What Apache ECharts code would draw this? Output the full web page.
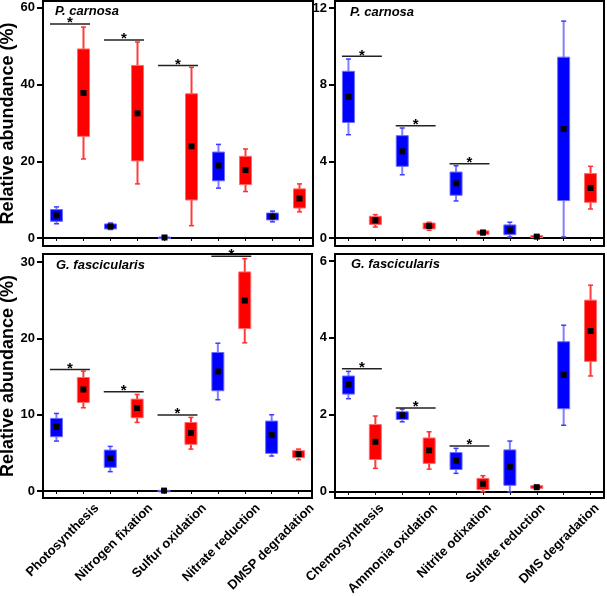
<!DOCTYPE html>
<html>
<head>
<meta charset="utf-8">
<script src="https://cdn.jsdelivr.net/npm/echarts@6/dist/echarts.min.js"></script>
<style>
  html, body { margin: 0; padding: 0; background: #fff; }
  #chart { width: 607px; height: 596px; }
</style>
</head>
<body>
<div id="chart"></div>
<script>
// categories
var leftCats = ["Photosynthesis", "Nitrogen fixation", "Sulfur oxidation", "Nitrate reduction", "DMSP degradation"];
var rightCats = ["Chemosynthesis", "Ammonia oxidation", "Nitrite odixation", "Sulfate reduction", "DMS degradation"];

// each box: [low whisker, Q1, Q3, high whisker, mean]
// P. carnosa
var pcLeftBlue = [[3.7, 4.35, 7.4, 8.1, 5.9], [2.2, 2.35, 3.65, 3.9, 3.0], [0, 0.05, 0.25, 0.4, 0.12], [13.0, 14.9, 22.4, 24.4, 18.9], [4.2, 4.7, 6.5, 7.0, 5.6]];
var pcLeftRed = [[20.6, 26.5, 49.3, 55.0, 37.8], [14.1, 20.1, 45.0, 51.1, 32.5], [3.2, 9.9, 37.6, 44.5, 23.9], [12.1, 13.9, 21.3, 23.2, 17.7], [6.8, 7.8, 12.8, 14.1, 10.3]];
var pcRightBlue = [[5.39, 6.03, 8.70, 9.34, 7.37], [3.30, 3.74, 5.34, 5.74, 4.52], [1.93, 2.23, 3.44, 3.77, 2.85], [0.05, 0.17, 0.68, 0.82, 0.43], [0.05, 1.95, 9.44, 11.32, 5.69]];
var pcRightRed = [[0.57, 0.70, 1.13, 1.22, 0.92], [0.40, 0.47, 0.78, 0.82, 0.63], [0.16, 0.19, 0.37, 0.40, 0.28], [0, 0.02, 0.12, 0.14, 0.07], [1.51, 1.86, 3.36, 3.74, 2.61]];
// G. fascicularis
var gfLeftBlue = [[6.54, 7.11, 9.51, 10.16, 8.42], [2.53, 3.10, 5.36, 5.84, 4.32], [0, 0.01, 0.08, 0.1, 0.05], [11.95, 13.13, 18.14, 19.36, 15.66], [4.58, 4.93, 9.16, 9.99, 7.33]];
var gfLeftRed = [[10.90, 11.60, 14.87, 15.70, 13.30], [8.98, 9.59, 12.04, 12.65, 10.86], [5.49, 6.11, 8.98, 9.64, 7.59], [19.41, 21.28, 28.70, 30.44, 24.95], [4.10, 4.36, 5.28, 5.49, 4.84]];
var gfRightBlue = [[2.42, 2.54, 3.01, 3.13, 2.79], [1.82, 1.88, 2.08, 2.15, 1.99], [0.48, 0.58, 1.02, 1.13, 0.81], [0, 0.17, 1.09, 1.32, 0.65], [1.73, 2.16, 3.90, 4.33, 3.04]];
var gfRightRed = [[0.61, 0.84, 1.75, 1.97, 1.30], [0.59, 0.74, 1.40, 1.56, 1.08], [0, 0.06, 0.35, 0.42, 0.21], [0.08, 0.09, 0.16, 0.17, 0.12], [3.01, 3.39, 4.98, 5.37, 4.18]];

// significance bars: [category index, height]
var pcLeftSig = [[0, 55.8], [1, 51.6], [2, 45.0]];
var pcRightSig = [[0, 9.48], [1, 5.86], [2, 3.88]];
var gfLeftSig = [[0, 15.92], [1, 13.0], [2, 9.94], [3, 30.75]];
var gfRightSig = [[0, 3.20], [1, 2.18], [2, 1.19]];

// y tick labels
var pcLeftTicks = [0, 20, 40, 60];
var pcRightTicks = [0, 4, 8, 12];
var gfLeftTicks = [0, 10, 20, 30];
var gfRightTicks = [0, 2, 4, 6];

var FONT = "'Liberation Sans', Arial, sans-serif";
var BLUE = { fill: "#0000ff", border: "#6b6bff", whisker: "#7f7fff", cap: "#3c3cff" };
var RED = { fill: "#ff0000", border: "#ff6b6b", whisker: "#ff3c3c", cap: "#ff3030" };

function boxData(blue, red) {
  var out = [];
  for (var i = 0; i < blue.length; i++) {
    out.push([2 * i].concat(blue[i]));
    out.push([2 * i + 1].concat(red[i]));
  }
  return out;
}

function renderBox(params, api) {
  var i = api.value(0);
  var c = i % 2 === 0 ? BLUE : RED;
  var x = api.coord([i, 0])[0];
  var yLow = api.coord([i, api.value(1)])[1];
  var yQ1 = api.coord([i, api.value(2)])[1];
  var yQ3 = api.coord([i, api.value(3)])[1];
  var yHigh = api.coord([i, api.value(4)])[1];
  var yMean = api.coord([i, api.value(5)])[1];
  var w = 12, cap = 5, m = 6;
  return {
    type: "group",
    children: [
      { type: "line", shape: { x1: x, y1: yHigh, x2: x, y2: yLow }, style: { stroke: c.whisker, lineWidth: 2 } },
      { type: "line", shape: { x1: x - cap / 2, y1: yHigh, x2: x + cap / 2, y2: yHigh }, style: { stroke: c.cap, lineWidth: 1.5 } },
      { type: "line", shape: { x1: x - cap / 2, y1: yLow, x2: x + cap / 2, y2: yLow }, style: { stroke: c.cap, lineWidth: 1.5 } },
      { type: "rect", shape: { x: x - w / 2, y: yQ3, width: w, height: Math.max(yQ1 - yQ3, 1.5) }, style: { fill: c.fill, stroke: c.border, lineWidth: 1 } },
      { type: "rect", shape: { x: x - m / 2, y: yMean - m / 2, width: m, height: m }, style: { fill: "#000" } }
    ]
  };
}

function renderSig(params, api) {
  var k = api.value(0);
  var y = api.coord([2 * k, api.value(1)])[1];
  var xl = api.coord([2 * k, 0])[0] - 6.5;
  var xr = api.coord([2 * k + 1, 0])[0] + 6.5;
  return {
    type: "group",
    children: [
      { type: "line", shape: { x1: xl, y1: y, x2: xr, y2: y }, style: { stroke: "#222", lineWidth: 1.5 } },
      { type: "text", x: (xl + xr) / 2, y: y - 1, style: { text: "*", fill: "#000", font: "bold 15px " + FONT, textAlign: "center", textVerticalAlign: "middle" } }
    ]
  };
}

var slots = ["0", "1", "2", "3", "4", "5", "6", "7", "8", "9"];
var grids = [
  { left: 43, top: 1, width: 270, height: 245, show: true },
  { left: 335, top: 1, width: 269, height: 245, show: true },
  { left: 43, top: 254, width: 269, height: 244, show: true },
  { left: 335, top: 254, width: 269, height: 244, show: true },
  // helper grid for the right-hand category names
  { left: 328, top: 254, width: 269, height: 244, show: false }
];
grids.forEach(function (g) {
  g.borderColor = "#000";
  g.borderWidth = 2;
  g.backgroundColor = "transparent";
  g.containLabel = false;
  g.outerBoundsMode = "none";
});

var yRanges = [[-2.1, 61.8], [-0.42, 12.37], [-0.92, 31.05], [-0.16, 6.18]];
var yTicks = [pcLeftTicks, pcRightTicks, gfLeftTicks, gfRightTicks];

var xAxes = [], yAxes = [];
for (var g = 0; g < 4; g++) {
  xAxes.push({
    type: "category", gridIndex: g, data: slots, position: "bottom",
    axisLine: { show: true, lineStyle: { color: "#000", width: 2 } },
    axisTick: { show: true, inside: false, alignWithLabel: true, interval: 0, length: 3, lineStyle: { color: "#000", width: 1 } },
    axisLabel: { show: false },
    splitLine: { show: false }
  });
  yAxes.push({
    type: "value", gridIndex: g, min: yRanges[g][0], max: yRanges[g][1],
    name: g % 2 === 0 ? "Relative abundance (%)" : "",
    nameLocation: "middle", nameGap: 25,
    nameTextStyle: { fontSize: 18, fontWeight: "bold", color: "#000", fontFamily: FONT },
    axisLine: { show: true, lineStyle: { color: "#000", width: 2 } },
    axisTick: { show: true, length: 6, customValues: yTicks[g], lineStyle: { color: "#000", width: 2 } },
    axisLabel: { customValues: yTicks[g], margin: 8, fontSize: 13, fontWeight: "bold", color: "#000", fontFamily: FONT },
    splitLine: { show: false }
  });
}
yAxes.push({ type: "value", gridIndex: 4, show: false, min: 0, max: 1 });

// category name axes for the bottom panels
[[2, leftCats], [4, rightCats]].forEach(function (p) {
  var cats = p[1];
  xAxes.push({
    type: "value", gridIndex: p[0], min: 0, max: 5, interval: 1, position: "bottom",
    axisLine: { show: false }, axisTick: { show: false }, splitLine: { show: false },
    axisLabel: {
      rotate: 45, margin: 8, fontSize: 13, fontWeight: "bold", color: "#000", fontFamily: FONT,
      formatter: function (v) { var k = Math.round(v); return k > 0 ? cats[k - 1] : ""; }
    }
  });
});

var boxSets = [boxData(pcLeftBlue, pcLeftRed), boxData(pcRightBlue, pcRightRed), boxData(gfLeftBlue, gfLeftRed), boxData(gfRightBlue, gfRightRed)];
var sigSets = [pcLeftSig, pcRightSig, gfLeftSig, gfRightSig];
var series = [];
for (var s = 0; s < 4; s++) {
  series.push({ type: "custom", xAxisIndex: s, yAxisIndex: s, data: boxSets[s], renderItem: renderBox, clip: false, silent: true, z: 3 });
  series.push({ type: "custom", xAxisIndex: s, yAxisIndex: s, data: sigSets[s], renderItem: renderSig, clip: false, silent: true, z: 4 });
}

function panelTitle(text, left, top) {
  return { text: text, left: left, top: top, padding: 0, textStyle: { fontSize: 13, fontWeight: "bold", fontStyle: "italic", color: "#000", fontFamily: FONT } };
}

var chart = echarts.init(document.getElementById("chart"), null, { renderer: "canvas" });
chart.setOption({
  animation: false,
  backgroundColor: "#fff",
  title: [
    panelTitle("P. carnosa", 55, 5),
    panelTitle("P. carnosa", 350, 6),
    panelTitle("G. fascicularis", 56, 259),
    panelTitle("G. fascicularis", 351, 258)
  ],
  grid: grids,
  xAxis: xAxes,
  yAxis: yAxes,
  series: series
});
</script>
</body>
</html>
